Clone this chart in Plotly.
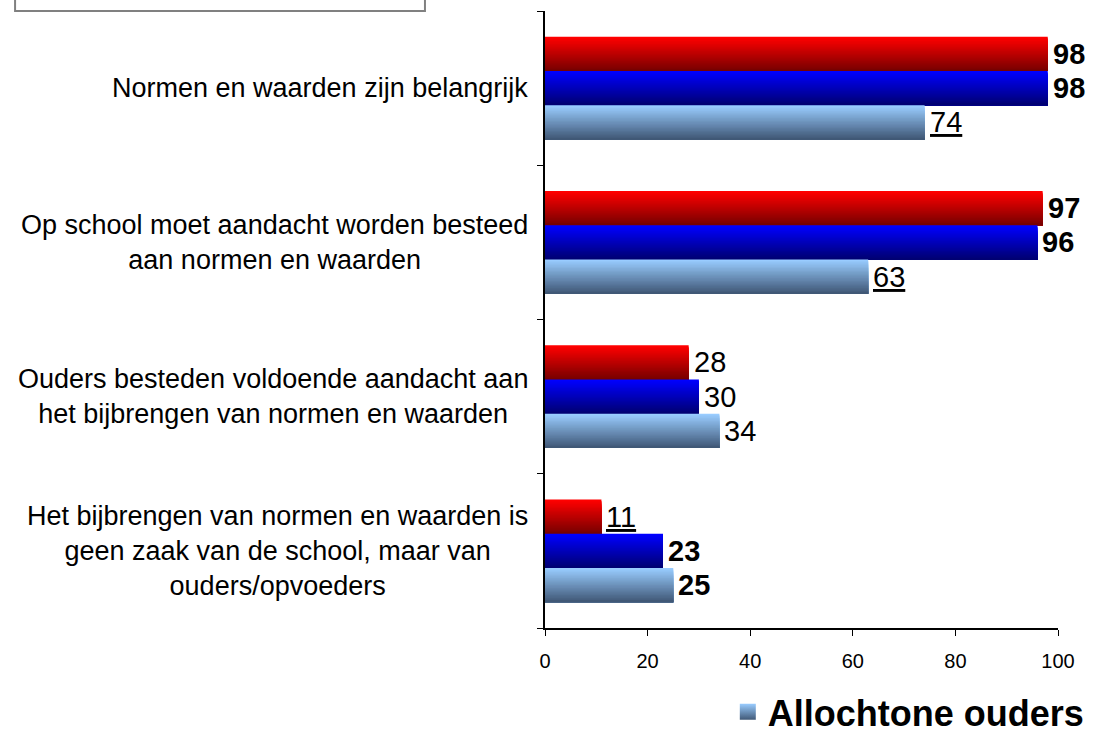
import plotly.graph_objects as go

categories = [
    "Normen en waarden zijn belangrijk",
    "Op school moet aandacht worden besteed<br>aan normen en waarden",
    "Ouders besteden voldoende aandacht aan<br>het bijbrengen van normen en waarden",
    "Het bijbrengen van normen en waarden is<br>geen zaak van de school, maar van<br>ouders/opvoeders",
]
leraren = [98, 97, 28, 11]
autochtoon = [98, 96, 30, 23]
allochtoon = [74, 63, 34, 25]
# label style per value: b = bold, u = underlined, n = plain
leraren_style = ["b", "b", "n", "u"]
autochtoon_style = ["b", "b", "n", "b"]
allochtoon_style = ["u", "u", "n", "b"]
x_ticks = [0, 20, 40, 60, 80, 100]

FONT = "Liberation Sans, Arial, sans-serif"
pos = list(range(len(categories)))
bar_h = 0.222
n_slices = 24

series = [
    ("Leraren", leraren, leraren_style, (255, 0, 0), (120, 0, 0), -1.5 * bar_h, False),
    ("Autochtone ouders", autochtoon, autochtoon_style, (0, 0, 255), (0, 0, 115), -0.5 * bar_h, False),
    ("Allochtone ouders", allochtoon, allochtoon_style, (153, 204, 255), (64, 88, 118), 0.5 * bar_h, True),
]


def mix(c1, c2, t):
    return "rgb(%d,%d,%d)" % tuple(round(a + (b - a) * t) for a, b in zip(c1, c2))


fig = go.Figure()
for name, vals, styles, c_top, c_bot, off, legend in series:
    h = bar_h / n_slices
    # each slice runs to the bottom of the bar, later slices drawn over earlier ones
    for k in range(n_slices):
        fig.add_trace(go.Bar(
            x=vals, y=pos, orientation="h",
            offset=off + k * h, width=bar_h - k * h,
            marker=dict(color=mix(c_top, c_bot, k / (n_slices - 1)), line=dict(width=0)),
            showlegend=False, hoverinfo="skip",
        ))
    if legend:
        fig.add_trace(go.Scatter(
            x=[None], y=[None], mode="markers", name=name,
            marker=dict(symbol="square", size=16, color=mix(c_top, c_bot, 0.0),
                        gradient=dict(type="vertical", color=mix(c_top, c_bot, 1.0))),
            showlegend=True,
        ))
    for p, v, s in zip(pos, vals, styles):
        txt = str(v)
        if s == "b":
            txt = "<b>%s</b>" % txt
        elif s == "u":
            txt = "<u>%s</u>" % txt
        fig.add_annotation(x=v, y=p + off + bar_h / 2, xref="x", yref="y", text=txt,
                           showarrow=False, xanchor="left", yanchor="middle", xshift=3,
                           font=dict(family=FONT, size=29, color="black"))

for p, c in zip(pos, categories):
    fig.add_annotation(x=0, y=p, xref="paper", yref="y", text=c, showarrow=False,
                       xanchor="right", yanchor="middle", align="center", xshift=-15,
                       font=dict(family=FONT, size=27, color="black"))

# cut-off title box
fig.add_shape(type="rect", xref="paper", yref="paper", x0=-1.033, x1=-0.234, y0=1.0, y1=1.3,
              line=dict(color="#808080", width=2), fillcolor="white", layer="above")

fig.update_layout(
    barmode="overlay",
    width=1096, height=742,
    margin=dict(l=545, r=38, t=11, b=114, autoexpand=False),
    plot_bgcolor="white", paper_bgcolor="white",
    font=dict(family=FONT, color="black"),
    legend=dict(x=1.062, y=-0.136, xanchor="right", yanchor="middle",
                font=dict(family=FONT, size=36, color="black", weight="bold"),
                bgcolor="rgba(0,0,0,0)"),
    xaxis=dict(range=[0, 100], tickvals=x_ticks, showgrid=False, zeroline=False,
               showline=True, linecolor="black", linewidth=1.5, ticks="outside", ticklen=6,
               tickcolor="black", tickfont=dict(size=20, family=FONT), ticklabelstandoff=8,
               fixedrange=True),
    yaxis=dict(range=[3.5, -0.5], tickvals=[-0.5, 0.5, 1.5, 2.5, 3.5], ticktext=[""] * 5,
               showgrid=False, zeroline=False, showline=True, linecolor="black", linewidth=1.5,
               ticks="outside", ticklen=6, tickcolor="black"),
)

fig.write_html("out.html", config={"displayModeBar": False},
               post_script="document.body.style.margin='0';")
